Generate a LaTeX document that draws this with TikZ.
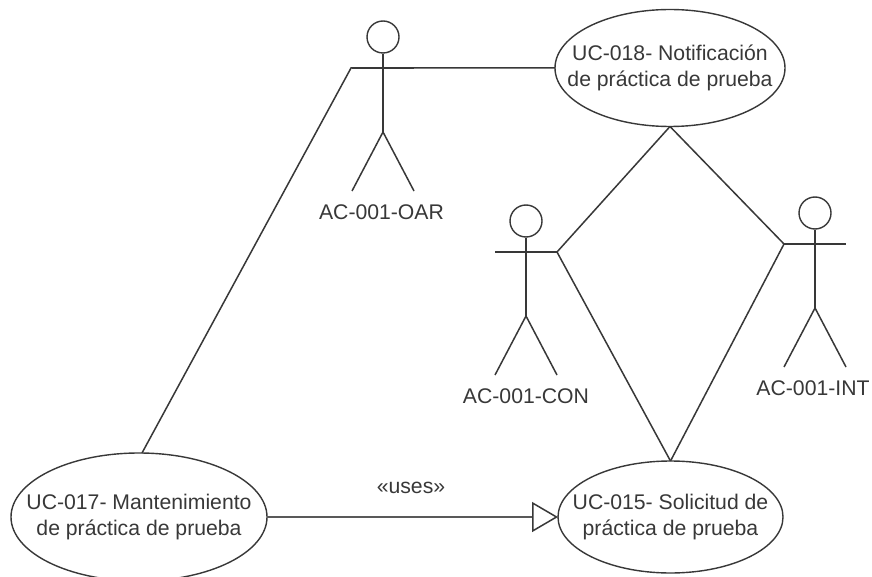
\documentclass[tikz,border=0pt]{standalone}
\usepackage{fontspec}
\setmainfont{Liberation Sans}
\usetikzlibrary{shapes.geometric,arrows.meta}
\definecolor{ink}{gray}{0.22}
\definecolor{stem}{gray}{0.35}
\tikzset{
 x=1pt,y=-1pt,
 line/.style={draw=ink,line width=1.5pt},
 usecase/.style={ellipse,draw=ink,line width=1.4pt,inner xsep=-70pt,inner ysep=-40pt,outer sep=0pt,align=center,font=\fontsize{21.2}{26.5}\selectfont,text=ink},
 head/.style={circle,draw=ink,line width=1.4pt,minimum size=32pt,inner sep=0pt},
 lbl/.style={font=\fontsize{21.2}{25}\selectfont,text=ink,inner sep=0pt},
 tri/.style={-{Triangle[open,color=ink,length=26pt,width=30pt,line width=1.5pt]}}
}
\newcommand{\actor}[5]{% name, x, head y, label, label shift
 \node[head] (#1h) at (#2,#3) {};
 \coordinate (#1l) at (#2-31,#3+31);
 \coordinate (#1r) at (#2+31,#3+31);
 \coordinate (#1b) at (#2,#3+95);
 \coordinate (#1fl) at (#2-31,#3+154);
 \coordinate (#1fr) at (#2+31,#3+154);
 \draw[line] (#1h) -- (#1b);
 \draw[line] (#1l) -- (#1r);
 \draw[line] (#1fl) -- (#1b) -- (#1fr);
 \node[lbl] (#1t) at (#2+#5,#3+175) {#4};
}
\begin{document}
\begin{tikzpicture}
\useasboundingbox (0,0) rectangle (872,577);
\fill[white] (0,0) rectangle (872,577);
\node[usecase,minimum width=230pt,minimum height=117pt] (u18) at (670,68) {UC-018- Notificación\\de práctica de prueba};
\node[usecase,minimum width=256pt,minimum height=128pt] (u17) at (139,517) {UC-017- Mantenimiento\\de práctica de prueba};
\node[usecase,minimum width=225pt,minimum height=112pt] (u15) at (670.5,517) {UC-015- Solicitud de\\práctica de prueba};
\actor{oar}{383}{37}{AC-001-OAR}{-1.5}
\actor{con}{526}{221}{AC-001-CON}{0}
\actor{int}{815}{213}{AC-001-INT}{-2}
\coordinate (bend) at (351,68);
\draw[line] (u17) ++(3,-64) -- (bend) -- (u18.west);
\draw[line] (u18.south) -- (conr) -- (u15.north);
\draw[line] (u18.south) -- (intl) -- (u15.north);
\draw[line,line width=2.4pt,draw=stem,tri] (u17.east) -- (u15.west);
\node[lbl] (uses) at (411,488) {«uses»};
\end{tikzpicture}
\end{document}
